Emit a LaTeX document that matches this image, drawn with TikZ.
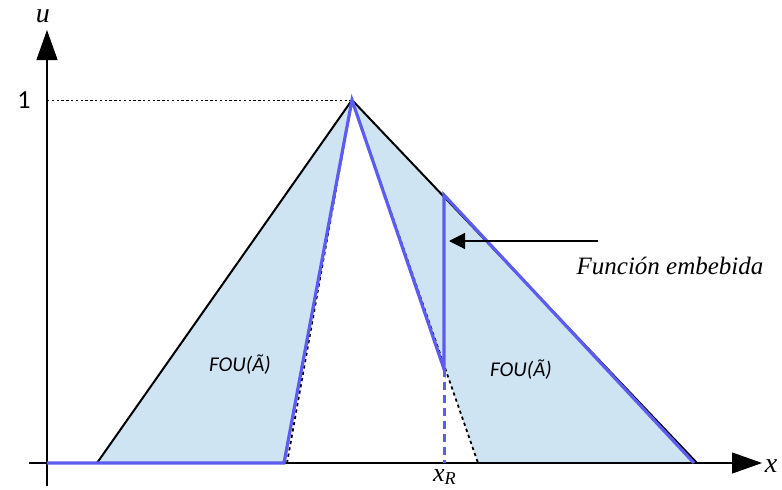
\documentclass[tikz,border=0pt]{standalone}
\usepackage{fontspec}
\setmainfont{Liberation Serif}
\newfontfamily\calfont{Carlito}
\usetikzlibrary{arrows.meta,calc}

\definecolor{mfline}{RGB}{92,92,240}
\definecolor{foufill}{RGB}{207,228,242}

\tikzset{
    axisline/.style={line width=0.6pt, -{Triangle[length=15pt,width=10.5pt]}},
    outerline/.style={line width=1pt, black},
    innerdots/.style={line width=0.9pt, dash pattern=on 1.6pt off 1.6pt},
    embline/.style={line width=1.6pt, mfline},
    foulabel/.style={font=\calfont\itshape\fontsize{10.5}{12}\selectfont}
}

\begin{document}
\begin{tikzpicture}[x=0.5pt,y=0.5pt]
    \useasboundingbox (-47,-26) rectangle (735,463);

    % Key points of the interval type-2 set
    \def\height{363}
    \coordinate (O) at (0,0);
    \coordinate (P) at (305,\height);
    \coordinate (L) at (50,0);
    \coordinate (IL) at (237,0);
    \coordinate (ILd) at (240,0);
    \coordinate (IR) at (431,0);
    \coordinate (R) at (650,0);
    \coordinate (E) at (397,268);
    \coordinate (Eb) at (397,94);
    \coordinate (XR) at (397,0);
    \coordinate (tail) at (551,222);

    % FOU shading
    \fill[foufill] (L) -- (P) -- (IL) -- cycle;
    \fill[foufill] (P) -- (R) -- (IR) -- cycle;

    % Axes
    \coordinate (xstart) at (-18,0);
    \coordinate (xend) at (715,0);
    \coordinate (ystart) at (0,-23);
    \coordinate (yend) at (0,433);
    \draw[axisline] (xstart) -- (xend);
    \draw[axisline] (ystart) -- (yend);
    \node[font=\itshape\fontsize{14}{16}\selectfont] (xlab) at (724,-3) {x};
    \node[font=\itshape\fontsize{14}{16}\selectfont] (ulab) at (-4,447) {u};
    \node[font=\calfont\fontsize{13}{15}\selectfont] (one) at (-23,363) {1};
    \draw[line width=0.5pt, dash pattern=on 1.2pt off 1.2pt] (O |- P) -- (P);

    % Lower and upper bounds
    \draw[innerdots] (ILd) -- (P) -- (IR);
    \draw[outerline] (L) -- (P) -- (R);

    % Embedded function
    \draw[embline] (O) -- (IL) -- (P) -- (Eb) -- (E) -- ([xshift=-1.5]R);
    \draw[embline, line width=1.5pt, dash pattern=on 4pt off 2.5pt] (Eb) -- (XR);
    \node[font=\itshape\fontsize{13}{15}\selectfont] (xr) at (398,-14) {x\textsubscript{\itshape R}};

    % Labels
    \node[foulabel] (fouleft) at (193,98) {FOU(Ã)};
    \node[foulabel] (fouright) at (474,93) {FOU(Ã)};
    \node[font=\itshape\fontsize{12.5}{15}\selectfont] (emb) at (623,197) {Función embebida};
    \draw[line width=0.6pt, -{Triangle[length=8pt,width=8pt]}, shorten >=2.5pt] (tail) -- (tail -| E);
\end{tikzpicture}
\end{document}
